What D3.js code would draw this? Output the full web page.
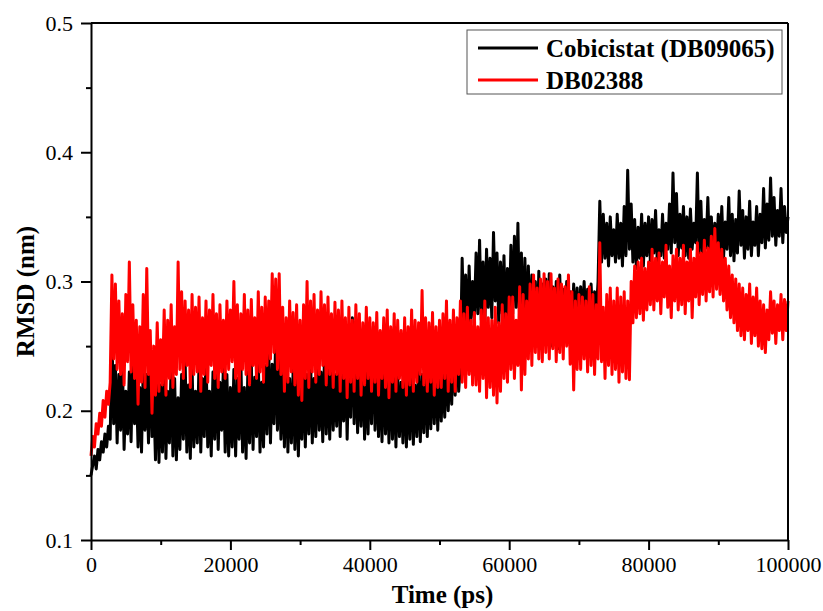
<!DOCTYPE html>
<html>
<head>
<meta charset="utf-8">
<script src="https://cdn.jsdelivr.net/npm/d3@7"></script>
<style>
  body { margin: 0; background: #fff; }
  text { font-family: "Liberation Serif", "Times New Roman", serif; }
</style>
</head>
<body>
<div id="vis"></div>
<script>

// time step of the series (ps), first sample at 0
const step = 250;

// Cobicistat (DB09065) RMSD (nm), one value per 250 ps, rows of 5000 ps
const cobicistat = [
    0.150, 0.158, 0.165, 0.155, 0.170, 0.162, 0.176, 0.168, 0.182, 0.172, 0.188, 0.178, 0.262, 0.190, 0.235, 0.175, 0.228, 0.185, 0.240, 0.170, 0.215,
    0.182, 0.230, 0.176, 0.242, 0.190, 0.225, 0.172, 0.218, 0.168, 0.235, 0.185, 0.228, 0.175, 0.245, 0.180, 0.212, 0.162, 0.230, 0.160, 0.220,
    0.168, 0.232, 0.163, 0.215, 0.175, 0.238, 0.165, 0.225, 0.162, 0.210, 0.170, 0.228, 0.178, 0.242, 0.168, 0.220, 0.163, 0.235, 0.172, 0.215,
    0.175, 0.238, 0.168, 0.225, 0.180, 0.245, 0.172, 0.215, 0.165, 0.230, 0.178, 0.240, 0.170, 0.222, 0.185, 0.236, 0.168, 0.228, 0.165, 0.218,
    0.172, 0.232, 0.165, 0.225, 0.178, 0.240, 0.168, 0.218, 0.163, 0.230, 0.175, 0.238, 0.170, 0.226, 0.180, 0.242, 0.168, 0.222, 0.172, 0.235,
    0.182, 0.248, 0.175, 0.236, 0.190, 0.258, 0.185, 0.240, 0.178, 0.230, 0.172, 0.238, 0.168, 0.225, 0.175, 0.232, 0.170, 0.228, 0.165, 0.220,
    0.178, 0.235, 0.172, 0.228, 0.182, 0.242, 0.175, 0.225, 0.180, 0.238, 0.185, 0.230, 0.176, 0.245, 0.182, 0.232, 0.178, 0.240, 0.185, 0.228,
    0.188, 0.242, 0.180, 0.236, 0.192, 0.250, 0.178, 0.238, 0.195, 0.272, 0.190, 0.245, 0.183, 0.235, 0.188, 0.248, 0.178, 0.232, 0.182, 0.240,
    0.190, 0.265, 0.185, 0.238, 0.180, 0.232, 0.176, 0.242, 0.182, 0.228, 0.175, 0.235, 0.178, 0.225, 0.172, 0.230, 0.180, 0.222, 0.175, 0.228,
    0.172, 0.225, 0.178, 0.236, 0.174, 0.220, 0.180, 0.232, 0.176, 0.228, 0.183, 0.240, 0.180, 0.230, 0.186, 0.238, 0.190, 0.242, 0.185, 0.235,
    0.192, 0.232, 0.195, 0.245, 0.200, 0.238, 0.205, 0.255, 0.212, 0.262, 0.215, 0.235, 0.318, 0.262, 0.305, 0.258, 0.312, 0.268, 0.300, 0.272,
    0.322, 0.275, 0.332, 0.270, 0.315, 0.265, 0.325, 0.280, 0.318, 0.272, 0.338, 0.285, 0.322, 0.268, 0.315, 0.275, 0.320, 0.262, 0.310, 0.270,
    0.328, 0.275, 0.335, 0.280, 0.345, 0.268, 0.322, 0.258, 0.318, 0.262, 0.312, 0.255, 0.305, 0.262, 0.300, 0.250, 0.308, 0.258, 0.298, 0.252,
    0.302, 0.256, 0.306, 0.250, 0.296, 0.258, 0.300, 0.248, 0.305, 0.262, 0.294, 0.255, 0.300, 0.265, 0.292, 0.258, 0.298, 0.268, 0.295, 0.262,
    0.296, 0.270, 0.300, 0.266, 0.294, 0.272, 0.298, 0.268, 0.292, 0.276, 0.300, 0.362, 0.315, 0.352, 0.318, 0.345, 0.312, 0.350, 0.320, 0.340,
    0.315, 0.352, 0.318, 0.345, 0.312, 0.358, 0.320, 0.386, 0.325, 0.360, 0.315, 0.348, 0.310, 0.342, 0.318, 0.352, 0.312, 0.345, 0.320, 0.350,
    0.316, 0.348, 0.322, 0.355, 0.314, 0.340, 0.320, 0.352, 0.318, 0.345, 0.325, 0.360, 0.322, 0.384, 0.330, 0.368, 0.320, 0.352, 0.326, 0.358,
    0.320, 0.350, 0.318, 0.356, 0.325, 0.345, 0.330, 0.384, 0.322, 0.362, 0.318, 0.348, 0.326, 0.365, 0.320, 0.350, 0.318, 0.345, 0.324, 0.352,
    0.322, 0.358, 0.318, 0.346, 0.325, 0.365, 0.320, 0.352, 0.316, 0.348, 0.322, 0.370, 0.328, 0.355, 0.318, 0.350, 0.325, 0.362, 0.320, 0.346,
    0.328, 0.358, 0.320, 0.352, 0.330, 0.372, 0.326, 0.360, 0.332, 0.380, 0.335, 0.365, 0.328, 0.355, 0.335, 0.372, 0.330, 0.358, 0.338, 0.350
];

// DB02388 RMSD (nm), one value per 250 ps, rows of 5000 ps
const db02388 = [
    0.165, 0.180, 0.172, 0.190, 0.182, 0.198, 0.188, 0.208, 0.195, 0.215, 0.205, 0.222, 0.305, 0.240, 0.298, 0.232, 0.285, 0.228, 0.275, 0.220, 0.290,
    0.238, 0.315, 0.230, 0.282, 0.225, 0.270, 0.205, 0.265, 0.222, 0.290, 0.218, 0.310, 0.228, 0.262, 0.198, 0.250, 0.212, 0.268, 0.215, 0.255,
    0.220, 0.278, 0.212, 0.270, 0.225, 0.282, 0.218, 0.265, 0.228, 0.315, 0.232, 0.292, 0.225, 0.285, 0.235, 0.278, 0.218, 0.290, 0.228, 0.280,
    0.230, 0.288, 0.215, 0.272, 0.228, 0.285, 0.222, 0.278, 0.235, 0.290, 0.225, 0.275, 0.218, 0.282, 0.230, 0.270, 0.225, 0.285, 0.232, 0.278,
    0.238, 0.300, 0.225, 0.282, 0.215, 0.275, 0.232, 0.290, 0.228, 0.278, 0.220, 0.286, 0.235, 0.272, 0.225, 0.292, 0.230, 0.280, 0.222, 0.288,
    0.235, 0.285, 0.240, 0.306, 0.245, 0.302, 0.232, 0.306, 0.228, 0.280, 0.215, 0.272, 0.222, 0.285, 0.230, 0.276, 0.220, 0.282, 0.212, 0.270,
    0.208, 0.282, 0.225, 0.300, 0.218, 0.285, 0.230, 0.290, 0.222, 0.278, 0.228, 0.292, 0.235, 0.282, 0.220, 0.288, 0.228, 0.275, 0.218, 0.284,
    0.228, 0.278, 0.215, 0.285, 0.225, 0.272, 0.210, 0.280, 0.222, 0.270, 0.215, 0.282, 0.225, 0.275, 0.212, 0.268, 0.220, 0.280, 0.225, 0.272,
    0.215, 0.268, 0.222, 0.276, 0.212, 0.262, 0.225, 0.272, 0.218, 0.278, 0.210, 0.265, 0.222, 0.275, 0.215, 0.270, 0.225, 0.262, 0.218, 0.272,
    0.212, 0.265, 0.220, 0.278, 0.215, 0.270, 0.222, 0.268, 0.228, 0.293, 0.220, 0.272, 0.215, 0.268, 0.222, 0.276, 0.212, 0.265, 0.218, 0.270,
    0.218, 0.275, 0.225, 0.285, 0.215, 0.270, 0.222, 0.278, 0.215, 0.272, 0.228, 0.285, 0.222, 0.275, 0.218, 0.280, 0.228, 0.270, 0.220, 0.276,
    0.220, 0.265, 0.215, 0.278, 0.225, 0.285, 0.210, 0.272, 0.218, 0.270, 0.212, 0.280, 0.206, 0.268, 0.215, 0.282, 0.225, 0.275, 0.222, 0.288,
    0.232, 0.288, 0.225, 0.270, 0.235, 0.296, 0.216, 0.290, 0.228, 0.285, 0.240, 0.298, 0.235, 0.305, 0.245, 0.295, 0.240, 0.302, 0.238, 0.306,
    0.245, 0.300, 0.240, 0.306, 0.248, 0.295, 0.238, 0.302, 0.245, 0.298, 0.240, 0.296, 0.250, 0.305, 0.236, 0.292, 0.216, 0.285, 0.232, 0.290,
    0.232, 0.288, 0.240, 0.285, 0.230, 0.296, 0.235, 0.290, 0.228, 0.282, 0.240, 0.330, 0.238, 0.280, 0.225, 0.290, 0.235, 0.295, 0.228, 0.285,
    0.232, 0.295, 0.222, 0.288, 0.230, 0.292, 0.225, 0.285, 0.224, 0.300, 0.268, 0.312, 0.272, 0.315, 0.275, 0.318, 0.270, 0.310, 0.278, 0.315,
    0.282, 0.325, 0.278, 0.318, 0.285, 0.322, 0.275, 0.315, 0.288, 0.328, 0.280, 0.312, 0.272, 0.320, 0.285, 0.325, 0.278, 0.318, 0.282, 0.328,
    0.275, 0.315, 0.285, 0.325, 0.272, 0.318, 0.288, 0.330, 0.282, 0.322, 0.290, 0.332, 0.285, 0.326, 0.292, 0.335, 0.288, 0.341, 0.294, 0.330,
    0.290, 0.325, 0.285, 0.318, 0.278, 0.312, 0.272, 0.305, 0.268, 0.302, 0.262, 0.298, 0.258, 0.295, 0.255, 0.290, 0.262, 0.298, 0.252, 0.288,
    0.258, 0.295, 0.250, 0.285, 0.248, 0.282, 0.245, 0.278, 0.255, 0.292, 0.260, 0.285, 0.252, 0.282, 0.262, 0.290, 0.255, 0.286, 0.262, 0.285
];

const xTicks = [0, 20000, 40000, 60000, 80000, 100000];
const xMinor = [10000, 30000, 50000, 70000, 90000];
const yTicks = [0.1, 0.2, 0.3, 0.4, 0.5];
const yMinor = [0.15, 0.25, 0.35, 0.45];

const seriesNames = ["Cobicistat (DB09065)", "DB02388"];
const seriesColors = ["#000000", "#ff0000"];

const serif = "'Liberation Serif', 'Times New Roman', serif";

const width = 823, height = 611;
const margin = { top: 23, right: 35, bottom: 71, left: 91 };
const innerW = width - margin.left - margin.right;
const innerH = height - margin.top - margin.bottom;

const svg = d3.select("#vis").append("svg")
    .attr("width", width)
    .attr("height", height)
    .style("font-family", serif);

const g = svg.append("g")
    .attr("transform", `translate(${margin.left},${margin.top})`);

const x = d3.scaleLinear().domain([0, 100000]).range([0, innerW]);
const y = d3.scaleLinear().domain([0.1, 0.5]).range([innerH, 0]);

// data lines, black first so red lies on top
const line = d3.line()
    .x((d, i) => x(i * step))
    .y(d => y(d));

[cobicistat, db02388].forEach((data, i) => {
    g.append("path")
        .datum(data)
        .attr("fill", "none")
        .attr("stroke", seriesColors[i])
        .attr("stroke-width", 3)
        .attr("stroke-linejoin", "round")
        .attr("d", line);
});

// frame (top and right)
g.append("line").attr("x1", 0).attr("x2", innerW).attr("y1", 0).attr("y2", 0)
    .attr("stroke", "#000").attr("stroke-width", 2);
g.append("line").attr("x1", innerW).attr("x2", innerW).attr("y1", 0).attr("y2", innerH)
    .attr("stroke", "#000").attr("stroke-width", 2);

// axes
g.append("g")
    .attr("transform", `translate(0,${innerH})`)
    .call(d3.axisBottom(x).tickValues(xTicks).tickSize(10).tickSizeOuter(0).tickPadding(6)
        .tickFormat(d3.format("d")));
g.append("g")
    .attr("transform", `translate(0,${innerH})`)
    .call(d3.axisBottom(x).tickValues(xMinor).tickSize(5).tickSizeOuter(0).tickFormat(""))
    .select(".domain").remove();

g.append("g")
    .call(d3.axisLeft(y).tickValues(yTicks).tickSize(10).tickSizeOuter(0).tickPadding(8)
        .tickFormat(d3.format(".1f")));
g.append("g")
    .call(d3.axisLeft(y).tickValues(yMinor).tickSize(5).tickSizeOuter(0).tickFormat(""))
    .select(".domain").remove();

g.selectAll(".domain").attr("stroke-width", 2);
g.selectAll(".tick line").attr("stroke-width", 2);
g.selectAll("g").attr("font-family", serif);
g.selectAll(".tick text")
    .attr("font-family", serif)
    .attr("font-size", 22)
    .attr("fill", "#000");

// axis titles
svg.append("text")
    .attr("x", margin.left + innerW / 2 + 3)
    .attr("y", 603)
    .attr("text-anchor", "middle")
    .style("font-size", "25px")
    .style("font-weight", "bold")
    .text("Time (ps)");

svg.append("text")
    .attr("transform", `translate(34,${margin.top + innerH / 2 + 10}) rotate(-90)`)
    .attr("text-anchor", "middle")
    .style("font-size", "25px")
    .style("font-weight", "bold")
    .text("RMSD (nm)");

// legend
const legend = svg.append("g").attr("transform", "translate(467,30)");
legend.append("rect")
    .attr("width", 315).attr("height", 64)
    .attr("fill", "#fff")
    .attr("stroke", "#555").attr("stroke-width", 1);

seriesNames.forEach((name, i) => {
    const row = legend.append("g").attr("transform", `translate(0,${18 + i * 32})`);
    row.append("line")
        .attr("x1", 11).attr("x2", 71)
        .attr("stroke", seriesColors[i]).attr("stroke-width", 3);
    row.append("text")
        .attr("x", 79).attr("y", 9)
        .style("font-size", "25px")
        .style("font-weight", "bold")
        .text(name);
});

</script>
</body>
</html>
